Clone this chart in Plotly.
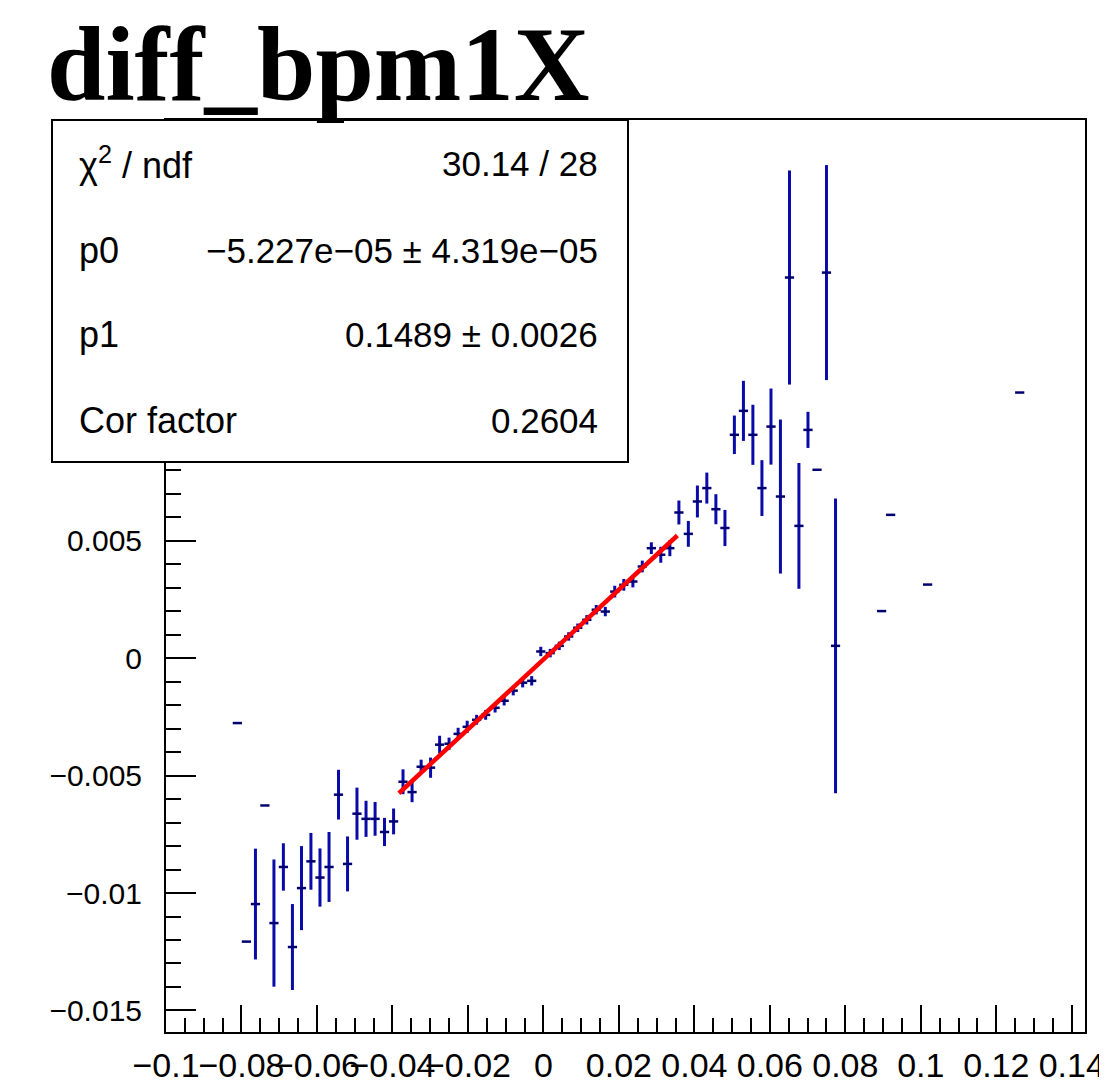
import plotly.graph_objects as go

# ---- data (profile diff_bpm1X) ----
bin_x = [-0.0811, -0.0787, -0.0763, -0.0738, -0.0714, -0.0689, -0.0665, -0.0641, -0.0616,
         -0.0592, -0.0568, -0.0543, -0.0519, -0.0494, -0.0470, -0.0446, -0.0421, -0.0397,
         -0.0372, -0.0348, -0.0324, -0.0299, -0.0275, -0.0250, -0.0226, -0.0202, -0.0177,
         -0.0153, -0.0128, -0.0104, -0.0080, -0.0055, -0.0031, -0.0007, 0.0018, 0.0042,
         0.0067, 0.0091, 0.0115, 0.0140, 0.0164, 0.0189, 0.0213, 0.0237, 0.0262, 0.0286,
         0.0311, 0.0335, 0.0359, 0.0384, 0.0408, 0.0433, 0.0457, 0.0481, 0.0506, 0.0530,
         0.0555, 0.0579, 0.0603, 0.0628, 0.0652, 0.0677, 0.0701, 0.0725, 0.0750, 0.0774,
         0.0896, 0.0920, 0.1018, 0.1262]

bin_y = [-0.00276, -0.01207, -0.01047, -0.00627, -0.01128, -0.00889, -0.01230, -0.00979,
         -0.00865, -0.00934, -0.00889, -0.00581, -0.00876, -0.00662, -0.00684, -0.00684,
         -0.00740, -0.00695, -0.00526, -0.00570, -0.00462, -0.00466, -0.00368, -0.00364,
         -0.00322, -0.00292, -0.00262, -0.00241, -0.00211, -0.00181, -0.00138, -0.00104,
         -0.00096, 0.00029, 0.00022, 0.00053, 0.00093, 0.00130, 0.00164, 0.00207, 0.00199,
         0.00284, 0.00313, 0.00327, 0.00391, 0.00469, 0.00441, 0.00469, 0.00621, 0.00530,
         0.00668, 0.00725, 0.00635, 0.00555, 0.00952, 0.01054, 0.00952, 0.00725, 0.00987,
         0.00689, 0.01622, 0.00564, 0.00973, 0.00803, 0.01643, 0.00053,
         0.00201, 0.00611, 0.00314, 0.01132]

bin_err = [0, 0, 0.00236, 0, 0.00271, 0.00101, 0.00183, 0.00179, 0.00121, 0.00124, 0.00149,
           0.00106, 0.00117, 0.00111, 0.00077, 0.00072, 0.00060, 0.00055, 0.00053, 0.00043,
           0.00030, 0.00043, 0.00038, 0.00026, 0.00026, 0.00026, 0.00021, 0.00021, 0.00020,
           0.00020, 0.00020, 0.00020, 0.00020, 0.00020, 0.00018, 0.00018, 0.00018, 0.00018,
           0.00020, 0.00020, 0.00020, 0.00025, 0.00025, 0.00025, 0.00025, 0.00025, 0.00034,
           0.00034, 0.00051, 0.00055, 0.00068, 0.00066, 0.00064, 0.00077, 0.00082, 0.00128,
           0.00128, 0.00119, 0.00162, 0.00328, 0.00456, 0.00268, 0.00077, 0, 0.00458, 0.00628,
           0, 0, 0, 0]

bin_half_width = 0.00122

fit_x = [-0.0383, 0.0355]
fit_y = [-0.00575, 0.00523]

x_tick_vals = [-0.1, -0.08, -0.06, -0.04, -0.02, 0, 0.02, 0.04, 0.06, 0.08, 0.1, 0.12, 0.14]
x_tick_text = ["\u22120.1", "\u22120.08", "\u22120.06", "\u22120.04", "\u22120.02", "0",
               "0.02", "0.04", "0.06", "0.08", "0.1", "0.12", "0.14"]
# labels above 0.005 are hidden behind the statistics box in the reference
y_tick_vals = [-0.015, -0.01, -0.005, 0, 0.005]
y_tick_text = ["\u22120.015", "\u22120.01", "\u22120.005", "0", "0.005"]

title_text = "diff_bpm1X"
stats_rows = [("\u03c7<sup>2</sup> / ndf", "30.14 / 28"),
              ("p0", "\u22125.227e\u221205 \u00b1 4.319e\u221205"),
              ("p1", "0.1489 \u00b1 0.0026"),
              ("Cor factor", "0.2604")]

# ---- layout geometry (pixels in the target picture) ----
W, H = 1107, 1090
OFF = 8  # page body margin added by the browser
L, R, T, B = 166 - OFF, 1085 - OFF, 120 - OFF, 1032 - OFF


def px(xp):
    return (xp - OFF - L) / (R - L)


def py(yp):
    return (B - (yp - OFF)) / (B - T)


FONT = "Liberation Sans, Arial, Helvetica, sans-serif"
BLUE = "#0a0aa8"

fig = go.Figure()
fig.add_trace(go.Scatter(
    x=bin_x, y=bin_y, mode="markers",
    marker=dict(size=1, color=BLUE, opacity=0),
    error_y=dict(type="data", array=bin_err, visible=True, color=BLUE, thickness=3, width=0),
    error_x=dict(type="constant", value=bin_half_width, visible=True, color="#000070",
                 thickness=2.5, width=0),
    showlegend=False, hoverinfo="x+y"))
fig.add_trace(go.Scatter(
    x=fit_x, y=fit_y, mode="lines", line=dict(color="#ff0000", width=4.5),
    showlegend=False))

fig.update_xaxes(range=[-0.1, 0.1435], tickvals=x_tick_vals, ticktext=x_tick_text,
                 tickangle=0, ticks="inside", ticklen=27, tickwidth=2, tickcolor="black",
                 minor=dict(ticks="inside", ticklen=14, tickwidth=2, dtick=0.005,
                            tick0=0, tickcolor="black", showgrid=False),
                 showline=True, linecolor="black", linewidth=2, mirror=True,
                 showgrid=False, zeroline=False, automargin=False, ticklabelstandoff=2,
                 tickfont=dict(family=FONT, size=34, color="black"))
fig.update_yaxes(range=[-0.01592, 0.02293], tickvals=y_tick_vals, ticktext=y_tick_text,
                 ticks="inside", ticklen=30, tickwidth=2, tickcolor="black",
                 minor=dict(ticks="inside", ticklen=15, tickwidth=2, dtick=0.001,
                            tick0=0, tickcolor="black", showgrid=False),
                 showline=True, linecolor="black", linewidth=2, mirror=True,
                 showgrid=False, zeroline=False, automargin=False, ticklabelstandoff=16,
                 tickfont=dict(family=FONT, size=30, color="black"))

shapes = [dict(type="rect", xref="paper", yref="paper",
               x0=px(52), x1=px(628), y0=py(462), y1=py(120),
               line=dict(color="black", width=2), fillcolor="white", layer="above")]

annotations = [dict(text=title_text, xref="paper", yref="paper", x=px(45), y=py(64),
                    xanchor="left", yanchor="middle", showarrow=False,
                    font=dict(family="Liberation Serif, Times New Roman, serif", size=105,
                              color="black", weight="bold"))]
row_y = [163, 250, 334, 420]
for (lab, val), yy in zip(stats_rows, row_y):
    annotations.append(dict(text=lab, xref="paper", yref="paper", x=px(77), y=py(yy),
                            xanchor="left", yanchor="middle", showarrow=False,
                            font=dict(family=FONT, size=36, color="black")))
    annotations.append(dict(text=val, xref="paper", yref="paper", x=px(600), y=py(yy),
                            xanchor="right", yanchor="middle", showarrow=False,
                            font=dict(family=FONT, size=35, color="black")))

fig.update_layout(width=W, height=H, margin=dict(l=L, r=W - R, t=T, b=H - B),
                  paper_bgcolor="white", plot_bgcolor="white",
                  shapes=shapes, annotations=annotations, showlegend=False)

fig.write_html("out.html")
